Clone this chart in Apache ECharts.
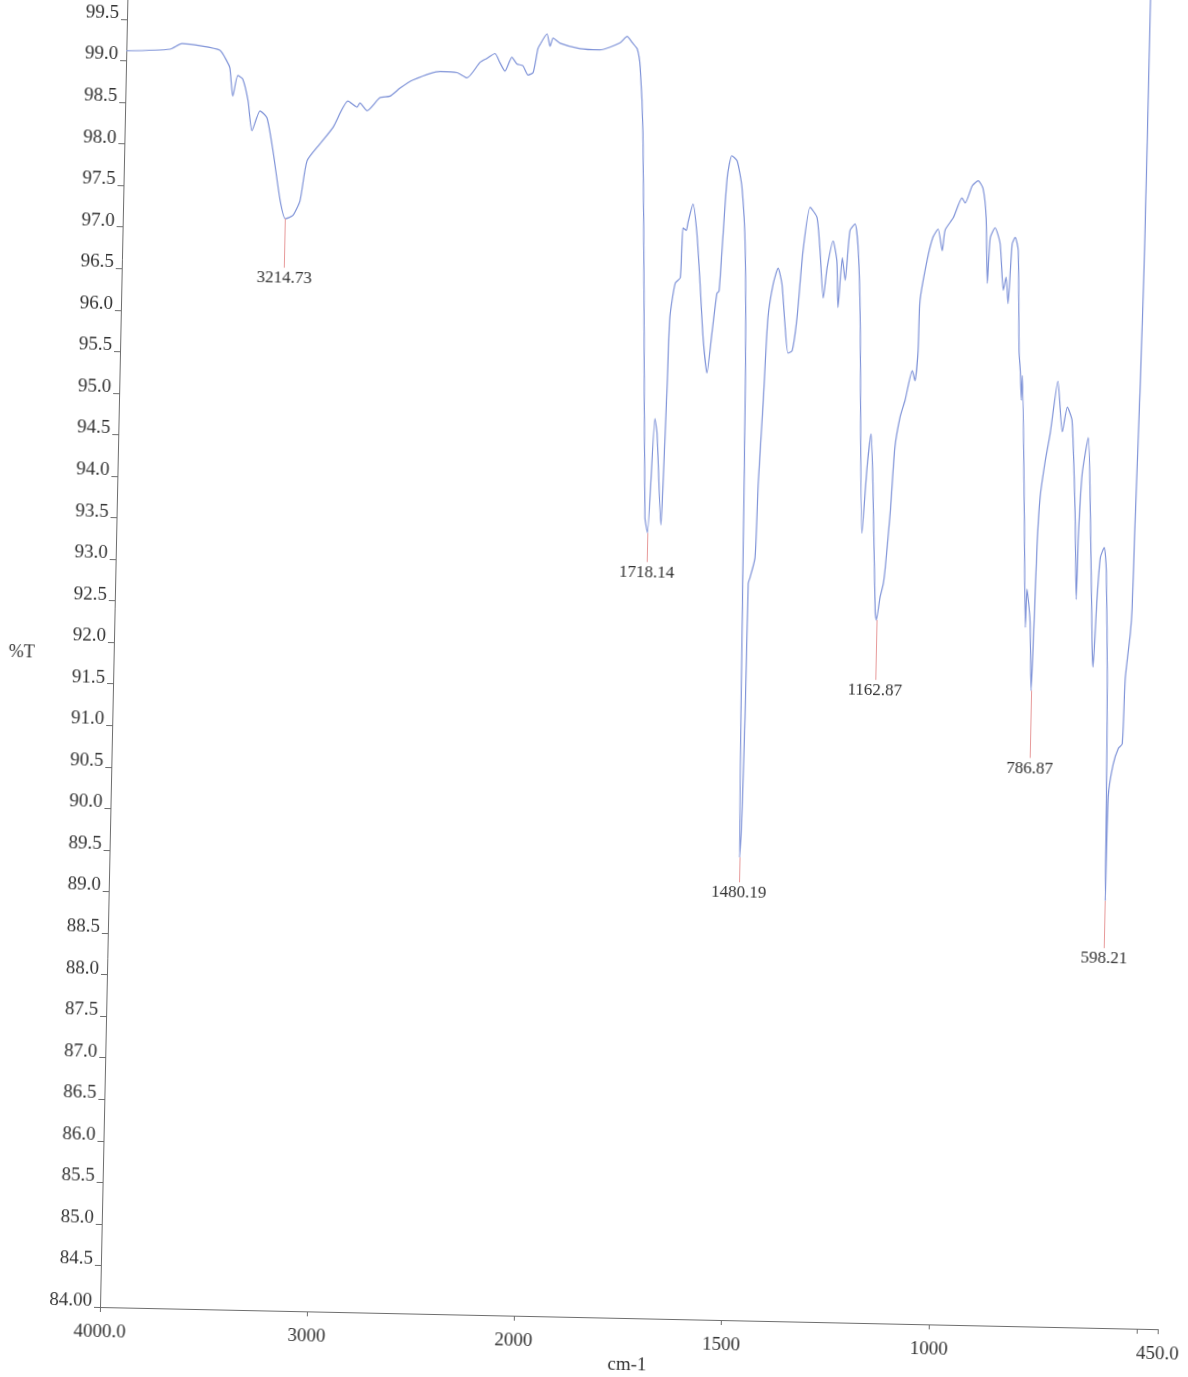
<!DOCTYPE html>
<html>
<head>
<meta charset="utf-8">
<script src="https://cdn.jsdelivr.net/npm/echarts@6/dist/echarts.min.js"></script>
<style>
  html, body { margin: 0; padding: 0; background: #ffffff; overflow: hidden; width: 1188px; height: 1377px; }
  #chart { position: absolute; left: -50px; top: -100px; width: 1300px; height: 1500px;
           transform: rotate(1.2deg); transform-origin: 150px 1407px; }
</style>
</head>
<body>
<div id="chart"></div>
<script>
// Wavenumber (cm-1) and %T
const wavenumbers = [
  4000, 3789, 3732, 3645, 3548, 3513, 3498, 3481, 3459, 3435, 3407, 3385, 3348, 3314, 3282, 3242,
  3215, 3179, 3146, 3116, 3055, 2994, 2924, 2880, 2866, 2831, 2770, 2722, 2674, 2613, 2483, 2400,
  2352, 2290, 2257, 2219, 2194, 2169, 2137, 2112, 2083, 2057, 2033, 2012, 2000,
  1985, 1977, 1970, 1953, 1905, 1857, 1809, 1792, 1780, 1767, 1759, 1749, 1738, 1725, 1718, 1706,
  1700, 1686, 1683, 1678, 1675, 1664, 1652, 1648, 1640, 1636, 1625, 1614, 1604, 1594, 1583, 1573,
  1563, 1558, 1553, 1544, 1534, 1521, 1508, 1497, 1490, 1486, 1480, 1477, 1474, 1473, 1469, 1458,
  1454, 1446, 1439, 1428, 1417, 1407, 1398, 1389, 1379, 1369, 1358, 1343, 1326, 1317, 1307, 1299,
  1286, 1276, 1271, 1263, 1255, 1246, 1234, 1225, 1217, 1202, 1193, 1185, 1178, 1166, 1163, 1155,
  1148, 1144, 1135, 1127, 1116, 1105, 1089, 1082, 1076, 1074, 1059, 1046, 1034, 1023, 1017, 998,
  978, 970, 954, 940, 928, 919, 913, 908, 897, 884, 874, 868, 862, 855, 848, 840,
  833, 829, 825, 824, 812, 804, 802, 793, 787, 784, 780, 775, 765, 754, 738, 725,
  714, 702, 690, 683, 681, 675, 662, 653, 642, 639, 633, 627, 618, 612, 604, 600,
  598, 596, 586, 574, 565, 561, 551, 548, 545, 540, 536, 535, 534, 533
];
const transmittance = [
  99.12, 99.15, 99.22, 99.20, 99.15, 99.02, 98.94, 98.60, 98.85, 98.81, 98.55, 98.19, 98.43, 98.35, 97.96, 97.36,
  97.14, 97.18, 97.36, 97.84, 98.05, 98.25, 98.57, 98.50, 98.55, 98.46, 98.62, 98.64, 98.74, 98.84, 98.95, 98.94,
  98.88, 99.07, 99.12, 99.18, 99.07, 98.97, 99.14, 99.06, 99.04, 98.93, 98.96, 99.25, 99.31,
  99.43, 99.28, 99.38, 99.32, 99.26, 99.25, 99.34, 99.42, 99.35, 99.27, 99.05, 98.25, 96.24, 93.64, 93.45, 94.83,
  94.65, 93.55, 94.05, 95.26, 96.05, 96.46, 96.53, 97.13, 97.10, 97.20, 97.42, 97.06, 96.46, 95.81, 95.39, 95.87,
  96.35, 96.38, 96.86, 97.75, 98.01, 97.95, 97.63, 96.88, 95.28, 92.66, 89.57, 89.92, 91.26, 92.87, 92.94, 93.18,
  94.07, 95.08, 96.07, 96.48, 96.67, 96.48, 96.01, 95.65, 95.68, 96.08, 96.88, 97.41, 97.29, 96.89, 96.32, 96.69,
  97.01, 96.77, 96.21, 96.81, 96.54, 97.14, 97.22, 96.90, 96.09, 93.50, 94.29, 94.70, 94.10, 92.54, 92.46, 92.74,
  92.90, 93.10, 93.75, 94.54, 94.91, 95.11, 95.47, 95.35, 95.71, 96.31, 96.80, 97.08, 97.18, 96.92, 97.17, 97.32,
  97.56, 97.50, 97.71, 97.77, 97.68, 97.33, 96.54, 97.09, 97.21, 97.02, 96.46, 96.62, 96.30, 97.02, 97.10, 96.94,
  95.73, 95.49, 95.14, 95.44, 93.74, 92.41, 92.87, 92.49, 91.65, 92.25, 93.38, 93.98, 94.40, 94.75, 95.38, 94.77,
  95.07, 94.91, 93.79, 92.76, 93.51, 94.27, 94.71, 93.76, 92.16, 91.95, 92.77, 93.27, 93.39, 93.11, 91.77, 90.27,
  89.14, 90.40, 90.78, 90.98, 91.03, 91.82, 92.37, 92.67, 93.78, 95.28, 97.00, 99.00, 101.00, 102.50
];

// Labelled peaks
const peakWn = [3214.73, 1718.14, 1480.19, 1162.87, 786.87, 598.21];
const peakT = [97.14, 93.45, 89.57, 92.46, 91.65, 89.14];
const peakLineEndT = [96.55, 93.10, 89.27, 91.74, 90.84, 88.57];

// Tick values
const yTicks = [84, 84.5, 85, 85.5, 86, 86.5, 87, 87.5, 88, 88.5, 89, 89.5, 90, 90.5, 91, 91.5,
  92, 92.5, 93, 93.5, 94, 94.5, 95, 95.5, 96, 96.5, 97, 97.5, 98, 98.5, 99, 99.5];
const xTicksHigh = [4000, 3000, 2000];
const xTicksLow = [2000, 1500, 1000, 500, 450];
const xLabelsLow = [1500, 1000, 450];

const Y_MIN = 84, Y_MAX = 100.8;
const FONT = 'Liberation Serif';
const TEXT = '#333333';
const AXIS = '#6e6e6e';
const LINE = '#7f93d8';
const PEAK = '#e79a9a';

function seg(lo, hi) {
  const out = [];
  for (let i = 0; i < wavenumbers.length; i++) {
    if (wavenumbers[i] >= lo && wavenumbers[i] <= hi) out.push([wavenumbers[i], transmittance[i]]);
  }
  return out;
}
function peakLines(lo, hi) {
  const out = [];
  for (let i = 0; i < peakWn.length; i++) {
    if (peakWn[i] >= lo && peakWn[i] <= hi) {
      out.push([{ coord: [peakWn[i], peakT[i]], name: peakWn[i].toFixed(2) },
                { coord: [peakWn[i], peakLineEndT[i]] }]);
    }
  }
  return out;
}
function xFmt(v) {
  if (v === 4000 || v === 450) return v.toFixed(1);
  return String(v);
}
const markLineBase = {
  symbol: 'none', silent: true, animation: false,
  lineStyle: { color: PEAK, width: 1, type: 'solid' },
  emphasis: { disabled: true },
  label: { show: true, position: 'end', distance: 2, formatter: '{b}',
           fontFamily: FONT, fontSize: 17, color: TEXT }
};

const chart = echarts.init(document.getElementById('chart'), null, { renderer: 'canvas' });
chart.setOption({
  animation: false,
  backgroundColor: '#ffffff',
  grid: [
    { left: 150, width: 414, top: 10.9, bottom: 93, containLabel: false },
    { left: 564, width: 644, top: 10.9, bottom: 93, containLabel: false }
  ],
  xAxis: [
    { type: 'value', gridIndex: 0, min: 2000, max: 4000, inverse: true,
      axisLine: { show: true, lineStyle: { color: AXIS, width: 1 } },
      axisTick: { show: true, length: 5, lineStyle: { color: AXIS }, customValues: xTicksHigh },
      axisLabel: { show: true, margin: 16, fontFamily: FONT, fontSize: 19, color: TEXT,
                   customValues: xTicksHigh, formatter: xFmt },
      splitLine: { show: false } },
    { type: 'value', gridIndex: 1, min: 450, max: 2000, inverse: true,
      axisLine: { show: true, lineStyle: { color: AXIS, width: 1 } },
      axisTick: { show: true, length: 5, lineStyle: { color: AXIS }, customValues: xTicksLow },
      axisLabel: { show: true, margin: 16, fontFamily: FONT, fontSize: 19, color: TEXT,
                   customValues: xLabelsLow, formatter: xFmt },
      splitLine: { show: false } }
  ],
  yAxis: [
    { type: 'value', gridIndex: 0, min: Y_MIN, max: Y_MAX,
      axisLine: { show: true, lineStyle: { color: AXIS, width: 1 } },
      axisTick: { show: true, length: 6, lineStyle: { color: AXIS }, customValues: yTicks },
      axisLabel: { show: true, margin: 8, fontFamily: FONT, fontSize: 19, color: TEXT,
                   verticalAlign: 'bottom', lineHeight: 12,
                   customValues: yTicks,
                   formatter: v => (v === 84 ? '84.00' : v.toFixed(1)) },
      splitLine: { show: false } },
    { type: 'value', gridIndex: 1, min: Y_MIN, max: Y_MAX, show: false, splitLine: { show: false } }
  ],
  graphic: [
    { type: 'text', x: 58, y: 754, silent: true,
      style: { text: '%T', fill: TEXT, font: '18px "' + FONT + '"', align: 'center', verticalAlign: 'middle' } },
    { type: 'text', x: 678, y: 1454, silent: true,
      style: { text: 'cm-1', fill: TEXT, font: '19px "' + FONT + '"', align: 'center', verticalAlign: 'middle' } }
  ],
  series: [
    { type: 'line', xAxisIndex: 0, yAxisIndex: 0, data: seg(2000, 4000),
      showSymbol: false, symbol: 'none', smooth: 0.2, clip: true,
      lineStyle: { color: LINE, width: 1.2 }, silent: true,
      markLine: Object.assign({}, markLineBase, { data: peakLines(2000, 4000) }) },
    { type: 'line', xAxisIndex: 1, yAxisIndex: 1, data: seg(0, 2000),
      showSymbol: false, symbol: 'none', smooth: 0.2, clip: true,
      lineStyle: { color: LINE, width: 1.2 }, silent: true,
      markLine: Object.assign({}, markLineBase, { data: peakLines(0, 2000) }) }
  ]
});
</script>
</body>
</html>
